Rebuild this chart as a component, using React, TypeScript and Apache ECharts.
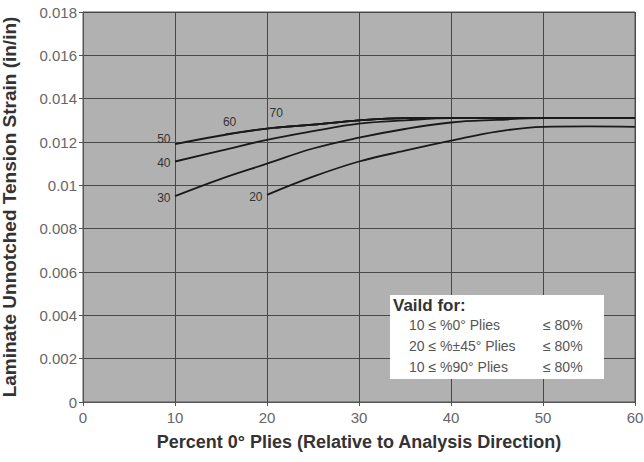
import React, { useEffect, useRef } from "react";
import * as echarts from "echarts";

const xTicks = [0, 10, 20, 30, 40, 50, 60];
const curve20 = [[20, 0.00956], [25, 0.0104], [30, 0.0111], [35, 0.0116], [40, 0.01206], [45, 0.01248], [50, 0.0127], [55, 0.01272], [60, 0.0127]];
const curve30 = [[10, 0.0095], [15, 0.0103], [20, 0.011], [25, 0.0117], [30, 0.0122], [35, 0.0126], [40, 0.0129], [45, 0.01302], [50, 0.0131], [60, 0.0131]];
const curve40 = [[10, 0.0111], [15, 0.0116], [20, 0.0121], [25, 0.0125], [30, 0.01285], [35, 0.0130], [40, 0.0131], [50, 0.0131], [60, 0.0131]];
const curve50 = [[10, 0.0119], [15, 0.0123], [20, 0.01262], [25, 0.0128], [30, 0.01300], [35, 0.0131], [40, 0.0131], [50, 0.0131], [60, 0.0131]];
const curve60 = [[15.5, 0.01235], [20, 0.01262], [25, 0.0128], [30, 0.013], [35, 0.0131], [40, 0.0131], [50, 0.0131], [60, 0.0131]];
const curve70 = [[21, 0.01266], [25, 0.0128], [30, 0.013], [35, 0.0131], [40, 0.0131], [50, 0.0131], [60, 0.0131]];
const validTitle = "Vaild for:";
const validRows = [
  ["10 ≤ %0° Plies", "≤ 80%"],
  ["20 ≤ %±45° Plies", "≤ 80%"],
  ["10 ≤ %90° Plies", "≤ 80%"],
];

const FONT = "Liberation Sans, Arial, sans-serif";

export default function App() {
  const ref = useRef<HTMLDivElement>(null);
  useEffect(() => {
    const chart = echarts.init(ref.current!, null, { renderer: "svg" });
    const mk = (name: string, data: number[][], pos: string, offset: number[]) => ({
      type: "line",
      name,
      data: data.map((d, i) =>
        i === 0
          ? {
              value: d,
              symbol: "circle",
              symbolSize: 1,
              itemStyle: { color: "rgba(0,0,0,0)", borderWidth: 0 },
              label: {
                show: true,
                formatter: name,
                position: pos,
                distance: 4,
                offset,
                fontSize: 12,
                color: "#333",
                fontFamily: FONT,
              },
            }
          : { value: d, symbol: "none" }
      ),
      smooth: 0.4,
      showSymbol: true,
      showAllSymbol: true,
      lineStyle: { color: "#1a1a1a", width: 1.8 },
      z: 3,
    });
    chart.setOption({
      animation: false,
      backgroundColor: "#ffffff",
      grid: {
        left: 83, right: 9, top: 12, bottom: 60,
        containLabel: false,
        outerBoundsMode: "none",
        show: true, backgroundColor: "#b1b1b1", borderColor: "#555", borderWidth: 1,
      },
      xAxis: {
        type: "value",
        min: 0,
        max: 60,
        interval: 10,
        name: "Percent 0° Plies (Relative to Analysis Direction)",
        nameLocation: "middle",
        nameGap: 31,
        nameTextStyle: { fontSize: 18, fontWeight: "bold", color: "#333", fontFamily: FONT },
        axisLine: { show: true, lineStyle: { color: "#555" } },
        axisTick: { show: true, length: 4, lineStyle: { color: "#555" } },
        axisLabel: { fontSize: 15, color: "#666", fontFamily: FONT, margin: 8 },
        splitLine: { show: true, lineStyle: { color: "#484848", width: 1 } },
      },
      yAxis: {
        type: "value",
        min: 0,
        max: 0.018,
        interval: 0.002,
        name: "Laminate Unnotched Tension Strain (in/in)",
        nameLocation: "middle",
        nameGap: 64,
        nameTruncate: { maxWidth: 600 },
        nameTextStyle: { fontSize: 19, fontWeight: "bold", color: "#333", fontFamily: FONT, width: 600, overflow: "none" },
        axisLine: { show: true, lineStyle: { color: "#555" } },
        axisTick: { show: true, length: 4, lineStyle: { color: "#555" } },
        axisLabel: { fontSize: 15, color: "#666", fontFamily: FONT, margin: 6 },
        splitLine: { show: true, lineStyle: { color: "#484848", width: 1 } },
      },
      series: [
        mk("20", curve20, "left", [0, 2]),
        mk("30", curve30, "left", [0, 2]),
        mk("40", curve40, "left", [0, 1]),
        mk("50", curve50, "left", [0, -5]),
        mk("60", curve60, "top", [4, -2]),
        mk("70", curve70, "top", [0, -4]),
      ],
      graphic: [
        {
          type: "group",
          left: 390,
          top: 295,
          z: 100,
          children: [
            { type: "rect", z: 100, shape: { x: 0, y: 0, width: 214, height: 84 }, style: { fill: "#ffffff" } },
            { type: "text", z: 101, x: 3, y: 2, style: { text: validTitle, font: `bold 17px ${FONT}`, fill: "#333" } },
            ...validRows.flatMap((r, i) => [
              { type: "text", z: 101, x: 19, y: 23 + i * 21, style: { text: r[0], font: `14px ${FONT}`, fill: "#555" } },
              { type: "text", z: 101, x: 153, y: 23 + i * 21, style: { text: r[1], font: `14px ${FONT}`, fill: "#555" } },
            ]),
          ],
        },
      ],
    });
    return () => chart.dispose();
  }, []);
  return <div ref={ref} style={{ width: 644, height: 462, position: "absolute", left: 0, top: 0 }} />;
}
